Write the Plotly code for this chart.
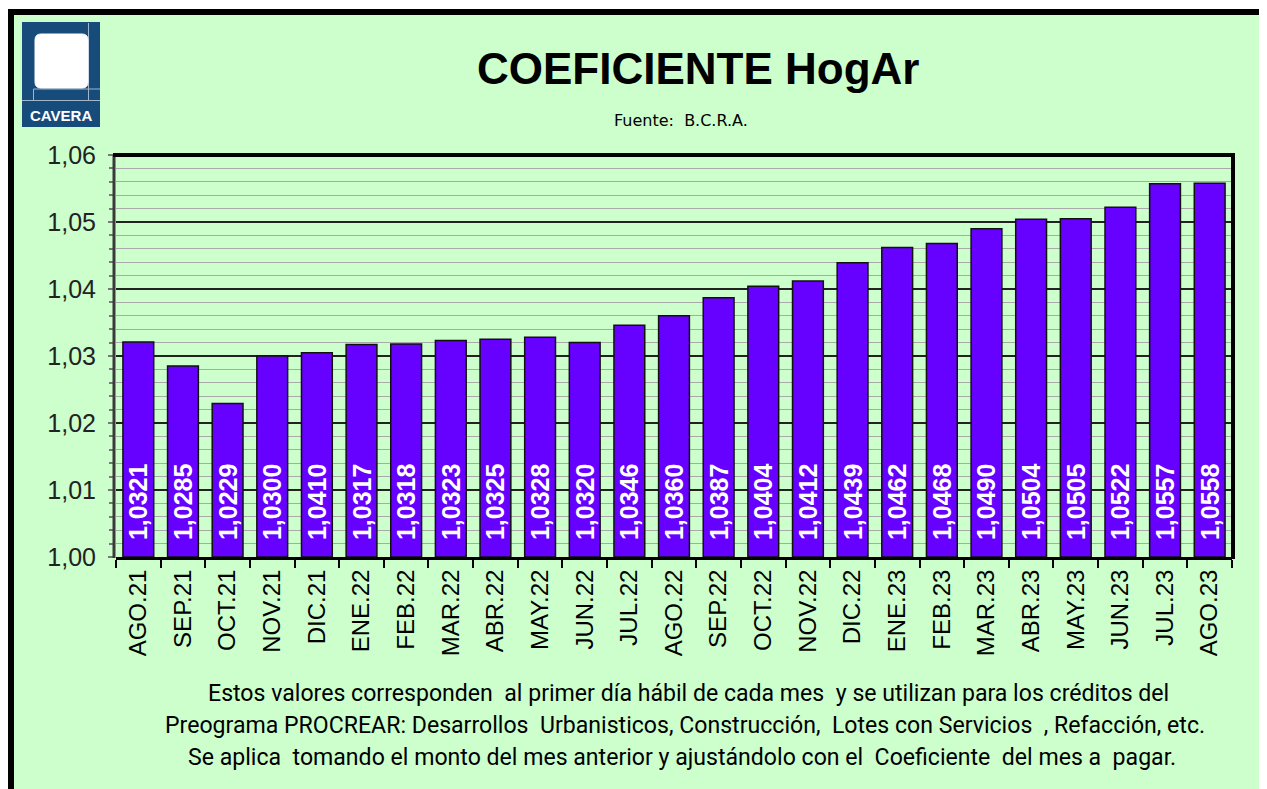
import plotly.graph_objects as go

months = ["AGO.21", "SEP.21", "OCT.21", "NOV.21", "DIC.21", "ENE.22", "FEB.22", "MAR.22",
          "ABR.22", "MAY.22", "JUN.22", "JUL.22", "AGO.22", "SEP.22", "OCT.22", "NOV.22",
          "DIC.22", "ENE.23", "FEB.23", "MAR.23", "ABR.23", "MAY.23", "JUN.23", "JUL.23", "AGO.23"]
values = [1.0321, 1.0285, 1.0229, 1.0300, 1.0305, 1.0317, 1.0318, 1.0323,
          1.0325, 1.0328, 1.0320, 1.0346, 1.0360, 1.0387, 1.0404, 1.0412,
          1.0439, 1.0462, 1.0468, 1.0490, 1.0504, 1.0505, 1.0522, 1.0557, 1.0558]
labels = ["1,0321", "1,0285", "1,0229", "1,0300", "1,0410", "1,0317", "1,0318", "1,0323",
          "1,0325", "1,0328", "1,0320", "1,0346", "1,0360", "1,0387", "1,0404", "1,0412",
          "1,0439", "1,0462", "1,0468", "1,0490", "1,0504", "1,0505", "1,0522", "1,0557", "1,0558"]
axis_base = 1.0

title_text = "COEFICIENTE HogAr"
source_text = "Fuente:  B.C.R.A."
note_lines = [
    "Estos valores corresponden  al primer día hábil de cada mes  y se utilizan para los créditos del",
    "Preograma PROCREAR: Desarrollos  Urbanisticos, Construcción,  Lotes con Servicios  , Refacción, etc.",
    "Se aplica  tomando el monto del mes anterior y ajustándolo con el  Coeficiente  del mes a  pagar.",
]

OFF = 8  # page body margin
W, H = 1267 - OFF, 789 - OFF
L, R, T, B = 116, 1232, 155, 557  # plot area in screenshot pixels


def px(x):
    return (x - L) / (R - L)


def py(y):
    return (B - y) / (B - T)


fig = go.Figure()
fig.add_trace(go.Bar(
    x=months, y=[v - axis_base for v in values], base=axis_base,
    text=["\u00a0\u00a0" + s for s in labels],
    marker=dict(color="#6600FF", line=dict(color="#111111", width=1.5)),
    width=0.69,
    textposition="inside", insidetextanchor="start", textangle=-90,
    constraintext="none",
    textfont=dict(family="Arial, Liberation Sans", size=25, color="white", weight="bold"),
    hoverinfo="skip",
))

shapes = []
# outer frame
shapes.append(dict(type="rect", xref="paper", yref="paper", x0=px(11), x1=px(1300), y0=py(12), y1=py(820),
                   fillcolor="#CCFFCC", line=dict(color="black", width=6), layer="below"))
# plot area borders
shapes.append(dict(type="line", xref="paper", yref="paper", x0=px(114), x1=px(114), y0=py(558), y1=py(155),
                   line=dict(color="#3A3A3A", width=3)))
shapes.append(dict(type="line", xref="paper", yref="paper", x0=px(113), x1=px(1234), y0=py(155), y1=py(155),
                   line=dict(color="black", width=4)))
shapes.append(dict(type="line", xref="paper", yref="paper", x0=px(1233), x1=px(1233), y0=py(153), y1=py(559),
                   line=dict(color="black", width=4)))
# logo
navy = "#174B7A"
shapes.append(dict(type="rect", xref="paper", yref="paper", x0=px(22), x1=px(100), y0=py(22), y1=py(127),
                   fillcolor=navy, line=dict(width=0)))
shapes.append(dict(type="line", xref="paper", yref="paper", x0=px(88.5), x1=px(88.5), y0=py(23), y1=py(100),
                   line=dict(color="#9FB6CC", width=1)))
shapes.append(dict(type="line", xref="paper", yref="paper", x0=px(33.5), x1=px(100), y0=py(89), y1=py(89),
                   line=dict(color="#9FB6CC", width=1)))
shapes.append(dict(type="line", xref="paper", yref="paper", x0=px(22), x1=px(100), y0=py(100.5), y1=py(100.5),
                   line=dict(color="#9FB6CC", width=1)))
shapes.append(dict(type="line", xref="paper", yref="paper", x0=px(33.5), x1=px(33.5), y0=py(89), y1=py(100),
                   line=dict(color="#9FB6CC", width=1)))
# white rounded square
x0, x1, y0, y1, r = 35, 88, 34, 88, 6
path = (f"M {px(x0 + r)},{py(y0)} L {px(x1 - r)},{py(y0)} Q {px(x1)},{py(y0)} {px(x1)},{py(y0 + r)} "
        f"L {px(x1)},{py(y1 - r)} Q {px(x1)},{py(y1)} {px(x1 - r)},{py(y1)} "
        f"L {px(x0 + r)},{py(y1)} Q {px(x0)},{py(y1)} {px(x0)},{py(y1 - r)} "
        f"L {px(x0)},{py(y0 + r)} Q {px(x0)},{py(y0)} {px(x0 + r)},{py(y0)} Z")
shapes.append(dict(type="path", xref="paper", yref="paper", path=path,
                   fillcolor="white", line=dict(color="white", width=1)))

annotations = [
    dict(text=title_text, xref="paper", yref="paper", x=px(698), y=py(69), showarrow=False,
         font=dict(family="Arial, Liberation Sans", size=44, color="black", weight="bold"),
         xanchor="center", yanchor="middle"),
    dict(text=source_text, xref="paper", yref="paper", x=px(681), y=py(120), showarrow=False,
         font=dict(family="DejaVu Sans", size=16, color="black"), xanchor="center", yanchor="middle"),
    dict(text="CAVERA", xref="paper", yref="paper", x=px(61), y=py(115), showarrow=False,
         font=dict(family="Liberation Sans Narrow, Arial", size=15, color="white", weight="bold"),
         xanchor="center", yanchor="middle"),
]
for line, yy, xx in zip(note_lines, [693, 725, 757], [688, 685, 682]):
    annotations.append(dict(text=line, xref="paper", yref="paper", x=px(xx), y=py(yy), showarrow=False,
                            font=dict(family="Roboto", size=23.1, color="black"),
                            xanchor="center", yanchor="middle"))

fig.update_layout(
    width=W, height=H,
    margin=dict(l=L - OFF, r=W - (R - OFF), t=T - OFF, b=H - (B - OFF), pad=0),
    paper_bgcolor="white",
    plot_bgcolor="#C0C0C0",
    separators=", ",
    showlegend=False,
    bargap=0.31,
    shapes=shapes,
    annotations=annotations,
    xaxis=dict(
        type="category", tickangle=-90, tickson="boundaries", ticks="outside", ticklen=8,
        tickwidth=2, tickcolor="black", showline=True, linecolor="black", linewidth=3,
        tickfont=dict(family="Arial, Liberation Sans", size=24, color="black"),
        showgrid=False, fixedrange=True,
    ),
    yaxis=dict(
        range=[1.0, 1.06], dtick=0.01, tick0=1.0, tickformat=".2f",
        ticks="outside", ticklen=7, tickcolor="#777777", tickwidth=1.5,
        ticklabelstandoff=7,
        tickfont=dict(family="Arial, Liberation Sans", size=25, color="#222222"),
        showgrid=True, gridcolor="#222222", gridwidth=1.5,
        minor=dict(dtick=0.002, showgrid=True, gridcolor="#A9A9A9", gridwidth=1,
                   ticks="outside", ticklen=6, tickcolor="#777777"),
        zeroline=False, showline=False, fixedrange=True,
    ),
)

fig.write_html("out.html")
